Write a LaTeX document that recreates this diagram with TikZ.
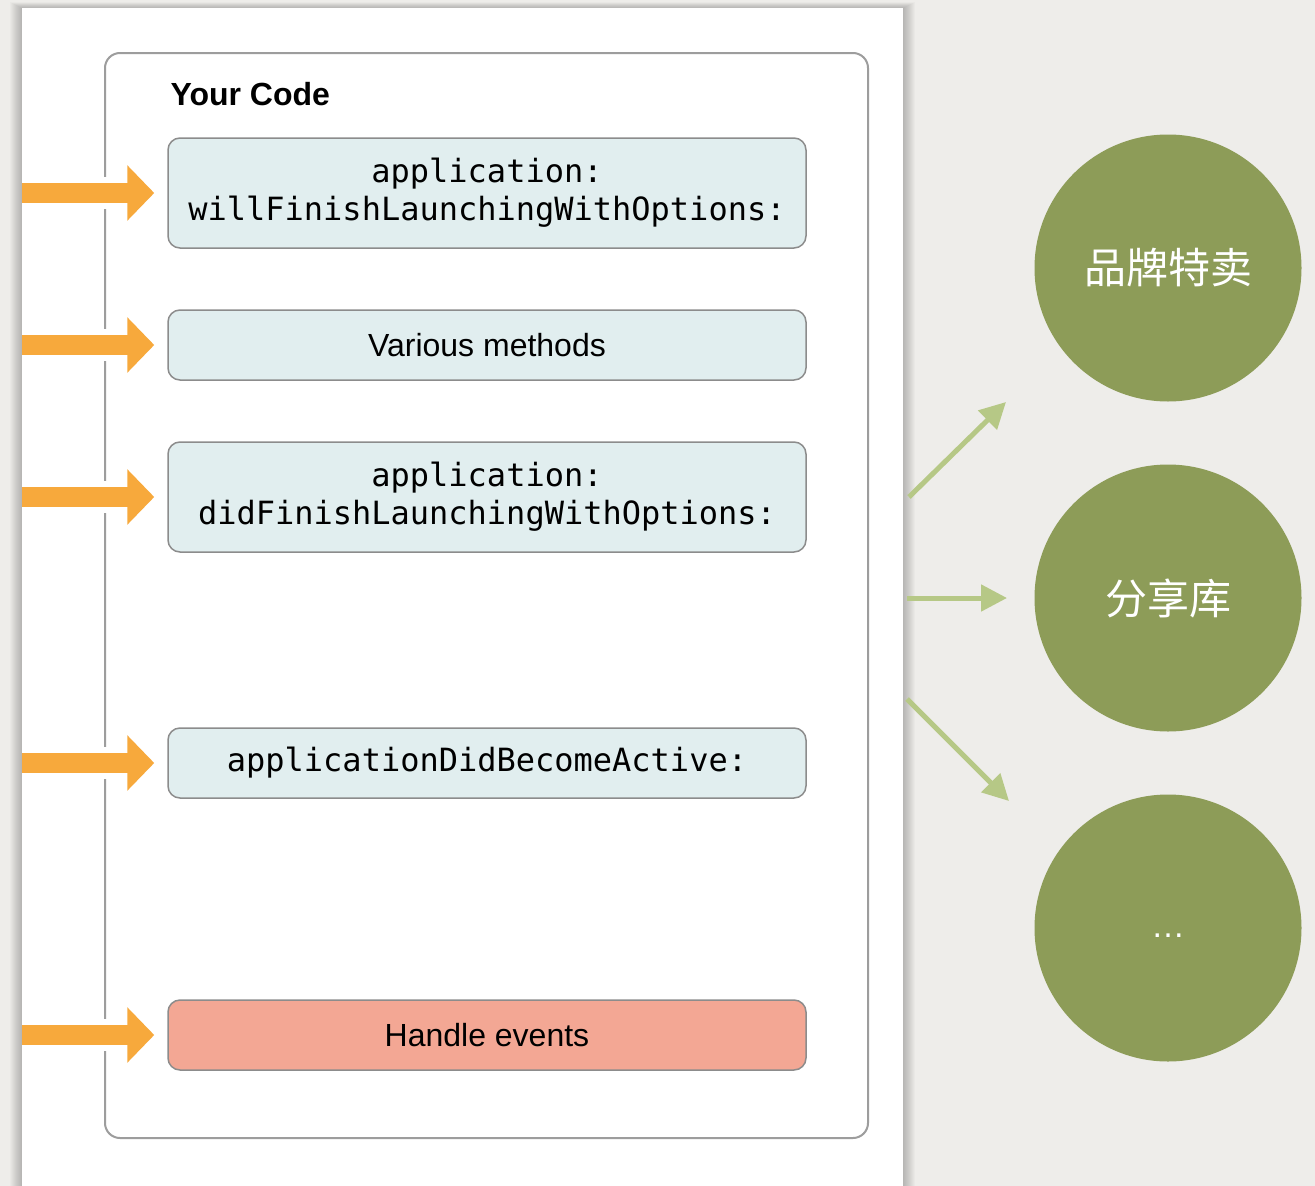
\documentclass[tikz,border=0pt]{standalone}
\usepackage{fontspec}
\setmainfont{Liberation Sans}
\newfontfamily\codefont{DejaVu Sans Mono}
\newfontfamily\cjkfont{Noto Sans CJK SC}
\usetikzlibrary{arrows.meta,positioning}
\definecolor{paper}{HTML}{EEEDEA}
\definecolor{launchorange}{HTML}{F7A93C}
\definecolor{leafgreen}{HTML}{B6C886}
\definecolor{olivegreen}{HTML}{8D9C58}
\definecolor{boxfill}{HTML}{E1EEEF}
\definecolor{boxline}{HTML}{8C8C8C}
\definecolor{salmon}{HTML}{F3A794}
\tikzset{
  method/.style={draw=boxline,fill=boxfill,line width=1.5pt,rounded corners=12pt,
    minimum width=638pt,minimum height=70pt,align=center,inner sep=0pt,
    font=\codefont\fontsize{32}{38}\selectfont},
  plain/.style={font=\fontsize{32}{38}\selectfont},
  launch/.style={launchorange,line width=20pt,-{Triangle[length=27pt,width=54pt]},shorten >=13pt},
  share/.style={leafgreen,line width=5pt,-{Triangle[length=26pt,width=26pt]}},
  lib/.style={circle,fill=olivegreen,minimum size=267pt,inner sep=0pt,text=white,
    font=\cjkfont\fontsize{42}{48}\selectfont}
}
\begin{document}
\begin{tikzpicture}[x=1pt,y=-1pt,>=latex]
        \fill[paper] (0,0) rectangle (1315,1186);
        \useasboundingbox (0,0) rectangle (1315,1186);
        % page with shadow
        \foreach \i in {1,...,12} \fill[black,opacity=.02] (22-\i,8-.5*\i) rectangle (903+\i,1186);
        \fill[white] (22,8) rectangle (903,1186);
        \draw[boxline!85,line width=2pt,rounded corners=15pt] (105,53) rectangle (868,1138);
        \node[anchor=base west,font=\bfseries\fontsize{32}{38}\selectfont] (title) at (167,105) {Your Code};
        % methods
        \node[method,minimum height=110pt] (will) at (487,193) {application:\\willFinishLaunchingWithOptions:};
        \node[method,plain] (various) at (487,345) {Various methods};
        \node[method,minimum height=110pt] (did) at (487,497) {application:\\didFinishLaunchingWithOptions:};
        \node[method] (active) at (487,763) {applicationDidBecomeActive:};
        \node[method,plain,fill=salmon] (events) at (487,1035) {Handle events};
        \coordinate (edge) at (22,0);
        \foreach \n in {will,various,did,active,events}{
            \draw[white,line width=32pt] (edge |- \n) -- ++(100,0);
            \draw[launch] (edge |- \n) -- (\n.west);
        }
        % libraries
        \node[lib] (brand) at (1168,268) {品牌特卖};
        \node[lib] (sharing) at (1168,598) {分享库};
        \node[lib,font=\fontsize{34}{40}\selectfont] (more) at (1168,928) {\smash{\raisebox{-9pt}{…}}};
        \coordinate (s1) at (909,497); \coordinate (e1) at (1006,402);
        \coordinate (s2) at (907,598); \coordinate (e2) at (1007,598);
        \coordinate (s3) at (907,699); \coordinate (e3) at (1009,801);
        \draw[share] (s1) -- (e1);
        \draw[share] (s2) -- (e2);
        \draw[share] (s3) -- (e3);
\end{tikzpicture}
\end{document}
